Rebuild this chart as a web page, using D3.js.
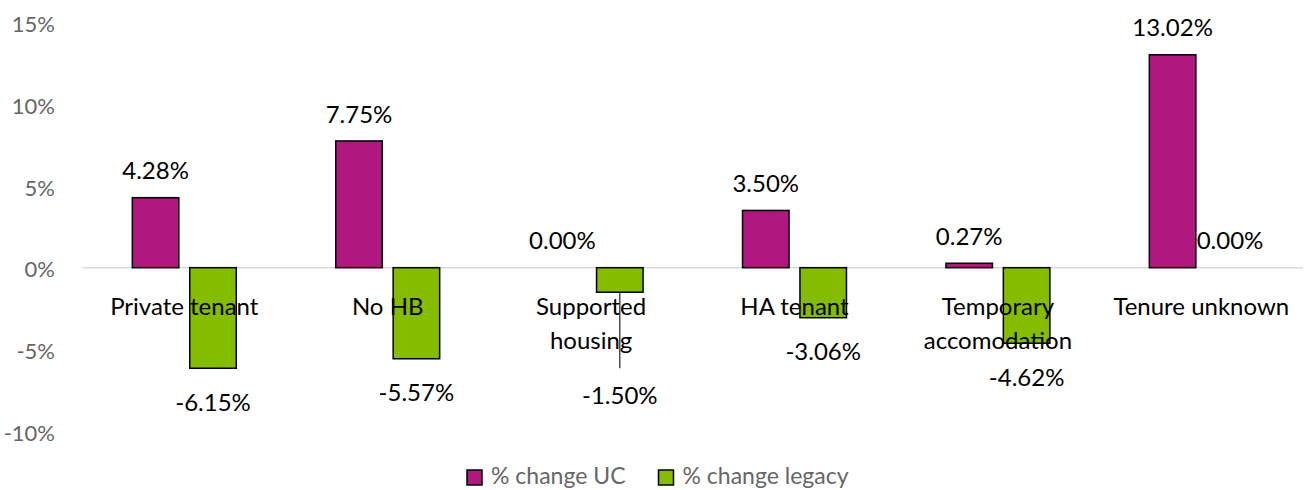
<!DOCTYPE html>
<html>
<head>
<meta charset="utf-8">
<script src="https://cdn.jsdelivr.net/npm/d3@7"></script>
<style>
  body { margin: 0; background: #fff; }
  svg { display: block; font-family: Lato, "Open Sans", sans-serif; }
</style>
</head>
<body>
<div id="chart"><svg></svg></div>
<script>
// data
const categories = ["Private tenant", "No HB", "Supported housing", "HA tenant", "Temporary accomodation", "Tenure unknown"];
const seriesNames = ["% change UC", "% change legacy"];
const ucValues = [4.28, 7.75, 0.00, 3.50, 0.27, 13.02];
const legacyValues = [-6.15, -5.57, -1.50, -3.06, -4.62, 0.00];
const yTicks = [-10, -5, 0, 5, 10, 15];
const colors = ["#B0177F", "#86BC00"];

const width = 1304, height = 490;
const plot = { left: 82.6, right: 1303, top: 22.4, bottom: 431.2 };

let svg = d3.select("#chart svg").attr("width", width).attr("height", height);

// scales
let x0 = d3.scaleBand()
  .domain(categories)
  .range([plot.left, plot.right])
  .paddingInner(0.489)
  .paddingOuter(0.2445);

let x1 = d3.scaleBand()
  .domain(seriesNames)
  .range([0, x0.bandwidth()])
  .paddingInner(0.19);

let y = d3.scaleLinear().domain([-10, 15]).range([plot.bottom, plot.top]);

// y axis labels (no line)
svg.append("g")
  .attr("transform", "translate(55,0)")
  .call(d3.axisLeft(y).tickValues(yTicks).tickSize(0).tickPadding(0).tickFormat(d => d + "%"))
  .call(g => g.select(".domain").remove())
  .selectAll("text")
  .attr("dy", "0.42em")
  .style("font-family", "Lato, sans-serif")
  .style("font-size", "22px")
  .style("fill", "#666");

// zero line
svg.append("line")
  .attr("x1", plot.left).attr("x2", plot.right)
  .attr("y1", y(0)).attr("y2", y(0))
  .attr("stroke", "#d9d9d9")
  .attr("stroke-width", 1.5);

// rows
let rows = categories.map((c, i) => ({ cat: c, values: [ucValues[i], legacyValues[i]] }));

// bars
let groups = svg.append("g").selectAll("g")
  .data(rows)
  .join("g")
  .attr("transform", d => "translate(" + x0(d.cat) + ",0)");

groups.selectAll("rect")
  .data(d => d.values.map((v, j) => ({ key: seriesNames[j], v: v, j: j })).filter(e => e.v !== 0))
  .join("rect")
  .attr("x", e => x1(e.key))
  .attr("y", e => y(Math.max(0, e.v)))
  .attr("width", x1.bandwidth())
  .attr("height", e => Math.abs(y(e.v) - y(0)))
  .attr("fill", e => colors[e.j])
  .attr("stroke", "#000")
  .attr("stroke-width", 1.5);

// category labels, wrapped like Excel
let catText = svg.append("g").selectAll("text")
  .data(categories)
  .join("text")
  .attr("x", d => x0(d) + x0.bandwidth() / 2)
  .attr("y", 315)
  .attr("text-anchor", "middle")
  .style("font-size", "24px")
  .style("fill", "#000");

catText.each(function (d) {
  let t = d3.select(this);
  let words = d.split(" ");
  t.text(d);
  if (this.getComputedTextLength() > 180 && words.length > 1) {
    t.text(null);
    words.forEach((w, k) => {
      t.append("tspan")
        .attr("x", x0(d) + x0.bandwidth() / 2)
        .attr("dy", k === 0 ? 0 : 34)
        .text(w);
    });
  }
});

// data labels
let labelShift = { "Supported housing|1": 69 }; // label dragged down with leader line
let labels = [];
rows.forEach(r => {
  r.values.forEach((v, j) => {
    let cx = x0(r.cat) + x1(seriesNames[j]) + x1.bandwidth() / 2;
    let cy = v >= 0 ? y(v) - 27 : y(v) + 34;
    let shift = labelShift[r.cat + "|" + j] || 0;
    labels.push({ cx: cx, cy: cy + shift, v: v, shift: shift, barEnd: y(v) });
  });
});

// leader line for moved label
svg.append("g").selectAll("line")
  .data(labels.filter(l => l.shift))
  .join("line")
  .attr("x1", l => l.cx).attr("x2", l => l.cx)
  .attr("y1", l => l.barEnd).attr("y2", l => l.cy - 27)
  .attr("stroke", "#222")
  .attr("stroke-width", 1.2);

svg.append("g").selectAll("text")
  .data(labels)
  .join("text")
  .attr("x", l => l.cx)
  .attr("y", l => l.cy)
  .attr("dy", "0.36em")
  .attr("text-anchor", "middle")
  .style("font-size", "24px")
  .style("fill", "#000")
  .text(l => l.v.toFixed(2) + "%");

// legend
let legend = svg.append("g").attr("transform", "translate(467,470)");
let lx = 0;
seriesNames.forEach((name, j) => {
  let item = legend.append("g").attr("transform", "translate(" + lx + ",0)");
  item.append("rect")
    .attr("width", 15).attr("height", 15)
    .attr("fill", colors[j])
    .attr("stroke", "#000")
    .attr("stroke-width", 1.5);
  let t = item.append("text")
    .attr("x", 24)
    .attr("y", 14)
    .style("font-size", "23px")
    .style("fill", "#666")
    .text(name);
  lx += 24 + t.node().getComputedTextLength() + 33;
});
</script>
</body>
</html>
